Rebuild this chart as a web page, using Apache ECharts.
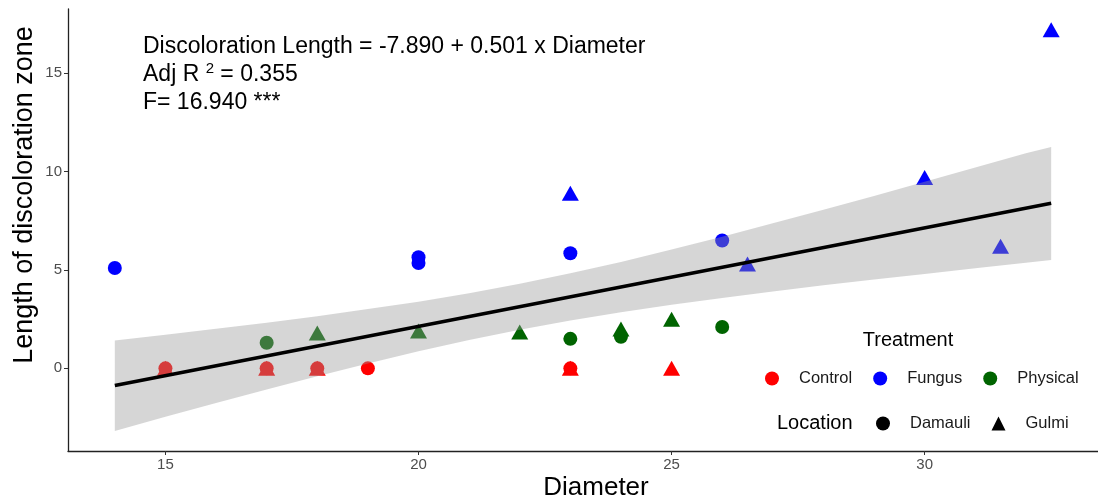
<!DOCTYPE html>
<html><head><meta charset="utf-8">
<script src="https://cdn.jsdelivr.net/npm/echarts@6/dist/echarts.min.js"></script>
<style>html,body{margin:0;padding:0;background:#fff}#c{width:1098px;height:502px}</style>
</head><body><div id="c"></div>
<script>
// ---- data ----
const controlDamauli  = [[15,0],[17,0],[18,0],[19,0],[23,0]];
const controlGulmi    = [[15,0],[17,0],[18,0],[23,0],[25,0]];
const fungusDamauli   = [[14,5.1],[20,5.65],[20,5.35],[23,5.85],[26,6.5]];
const fungusGulmi     = [[23,8.9],[26.5,5.3],[30,9.7],[31.5,6.2],[32.5,17.2]];
const physicalDamauli = [[17,1.3],[23,1.5],[24,1.6],[26,2.1]];
const physicalGulmi   = [[18,1.8],[20,1.9],[22,1.85],[24,2.0],[25,2.5]];
const fitLine   = [[14,-0.876],[32.5,8.393]];
const bandX     = [14, 15, 16, 17, 18, 19, 20, 21, 22, 23, 24, 25, 26, 27, 28, 29, 30, 31, 32, 32.5];
const bandUpper = [1.42, 1.71, 2.01, 2.32, 2.65, 3.01, 3.39, 3.82, 4.30, 4.83, 5.41, 6.04, 6.69, 7.37, 8.06, 8.76, 9.48, 10.20, 10.93, 11.25];
const bandLower = [-3.18, -2.46, -1.76, -1.07, -0.40, 0.25, 0.87, 1.44, 1.96, 2.43, 2.85, 3.23, 3.58, 3.91, 4.22, 4.51, 4.80, 5.08, 5.36, 5.50];
const xTicks = [15, 20, 25, 30];
const yTicks = [0, 5, 10, 15];
const treatments = ['Control', 'Fungus', 'Physical'];
const locations = ['Damauli', 'Gulmi'];
const annotationLines = ['Discoloration Length = -7.890 + 0.501 x Diameter', 'Adj R ', '2', ' = 0.355', 'F= 16.940 ***'];

const COLORS = {Control:'#ff0000', Fungus:'#0000ff', Physical:'#006400'};
const FONT = '"Liberation Sans", Arial, Helvetica, sans-serif';

const chart = echarts.init(document.getElementById('c'), null, {renderer:'canvas'});

function pts(name, data, color, symbol){
  return {
    type:'scatter', name:name, data:data, symbol:symbol,
    symbolSize: symbol === 'triangle' ? [17,15] : 14,
    itemStyle:{color:color, opacity:1}, z:2, silent:true
  };
}
function legendOnly(name, color, symbol){
  return {type:'scatter', name:name, data:[], symbol:symbol, itemStyle:{color:color, opacity:1}};
}

const bandData = bandX.map((x,i)=>[x, bandUpper[i], bandLower[i]]);

const series = [
  pts('c-d', controlDamauli, COLORS.Control, 'circle'),
  pts('f-d', fungusDamauli, COLORS.Fungus, 'circle'),
  pts('p-d', physicalDamauli, COLORS.Physical, 'circle'),
  pts('c-g', controlGulmi, COLORS.Control, 'triangle'),
  pts('f-g', fungusGulmi, COLORS.Fungus, 'triangle'),
  pts('p-g', physicalGulmi, COLORS.Physical, 'triangle'),
  {
    type:'custom', name:'band', data:bandData, z:3, silent:true,
    encode:{x:0, y:[1,2]},
    renderItem:function(params, api){
      if (params.dataIndex !== 0) return;
      const up=[], lo=[];
      for (let i=0;i<bandX.length;i++){
        up.push(api.coord([bandX[i], bandUpper[i]]));
        lo.push(api.coord([bandX[i], bandLower[i]]));
      }
      return {type:'polygon', shape:{points: up.concat(lo.reverse())},
              style:{fill:'rgba(153,153,153,0.4)'}};
    }
  },
  {
    type:'line', name:'fit', data:fitLine, z:4, silent:true, symbol:'none',
    lineStyle:{color:'#000', width:3.5}
  },
  legendOnly('Control', COLORS.Control, 'circle'),
  legendOnly('Fungus', COLORS.Fungus, 'circle'),
  legendOnly('Physical', COLORS.Physical, 'circle'),
  legendOnly('Damauli', '#000', 'circle'),
  legendOnly('Gulmi', '#000', 'triangle')
];

const option = {
  animation:false,
  backgroundColor:'#fff',
  textStyle:{fontFamily:FONT},
  grid:{left:68, right:0, top:9, bottom:51, outerBoundsMode:'none'},
  xAxis:{
    type:'value', min:13.075, max:33.425,
    splitLine:{show:false},
    axisLine:{onZero:false, lineStyle:{color:'#222', width:1.3}},
    axisTick:{length:4, customValues:xTicks, lineStyle:{color:'#333'}},
    axisLabel:{customValues:xTicks, color:'#4d4d4d', fontSize:15, margin:6, fontFamily:FONT}
  },
  yAxis:{
    type:'value', min:-4.2, max:18.26,
    splitLine:{show:false},
    axisLine:{onZero:false, lineStyle:{color:'#222', width:1.3}},
    axisTick:{length:4, customValues:yTicks, lineStyle:{color:'#333'}},
    axisLabel:{customValues:yTicks, color:'#4d4d4d', fontSize:15, margin:6, fontFamily:FONT}
  },
  legend:[
    {
      data:treatments, orient:'horizontal', left:760, top:365,
      itemWidth:14, itemHeight:14, itemGap:21, icon:'circle',
      textStyle:{fontSize:16.5, color:'#1a1a1a', fontFamily:FONT, padding:[0,0,0,15]}
    },
    {
      data:locations, orient:'horizontal', left:871, top:410,
      itemWidth:14, itemHeight:14, itemGap:21,
      textStyle:{fontSize:16.5, color:'#1a1a1a', fontFamily:FONT, padding:[0,0,0,15]}
    }
  ],
  graphic:[
    {type:'text', left:143, top:35, style:{text:annotationLines[0], fontSize:23, fontFamily:FONT, fill:'#000'}},
    {type:'text', left:143, top:61, style:{
      text:'{n|'+annotationLines[1]+'}{s|'+annotationLines[2]+'}{n|'+annotationLines[3]+'}',
      rich:{n:{fontSize:23, fontFamily:FONT, fill:'#000'}, s:{fontSize:15, fontFamily:FONT, fill:'#000', padding:[0,0,12,0]}}
    }},
    {type:'text', left:143, top:91, style:{text:annotationLines[4], fontSize:23, fontFamily:FONT, fill:'#000'}},
    {type:'text', x:908, y:340, style:{text:'Treatment', fontSize:20, fontFamily:FONT, fill:'#000', align:'center', verticalAlign:'middle'}},
    {type:'text', x:777, y:423, style:{text:'Location', fontSize:20, fontFamily:FONT, fill:'#000', align:'left', verticalAlign:'middle'}},
    {type:'text', x:596, y:488, style:{text:'Diameter', fontSize:26, fontFamily:FONT, fill:'#000', align:'center', verticalAlign:'middle'}},
    {type:'text', x:25, y:195, rotation:Math.PI/2, style:{text:'Length of discoloration zone', fontSize:27, fontFamily:FONT, fill:'#000', align:'center', verticalAlign:'middle'}}
  ],
  series:series
};
chart.setOption(option);
</script>
</body></html>
